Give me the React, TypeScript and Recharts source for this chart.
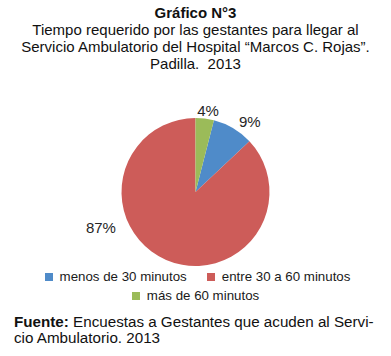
import React from "react";
import { PieChart, Pie, Cell } from "recharts";

// categories and values, in legend order
const categories = ["menos de 30 minutos", "entre 30 a 60 minutos", "más de 60 minutos"];
const percents = [9, 87, 4];
const sliceColors = ["#4F8BC9", "#CD5C59", "#9BBB59"];

const titleLines = [
  "Tiempo requerido por las gestantes para llegar al",
  "Servicio Ambulatorio del Hospital “Marcos C. Rojas”.",
  "Padilla.  2013",
];

const RAD = Math.PI / 180;
// Excel "best fit" label placement: angle shift (deg, clockwise) and extra radius per slice
const labelShift = [
  { angle: 7, extra: 15 },
  { angle: 46, extra: 27 },
  { angle: 1.6, extra: 8 },
];

const pieData = categories.map((name, i) => ({ name, value: percents[i] }));

// green slice sits right after 12 o'clock, so start blue 4% past the top
const startAngle = 90 - percents[2] * 3.6;

const font = "'Liberation Sans', Arial, sans-serif";

const renderLabel = (props: any) => {
  const { cx, cy, midAngle, outerRadius, index, value } = props;
  const s = labelShift[index];
  const a = midAngle - s.angle;
  const r = outerRadius + s.extra;
  const x = cx + r * Math.cos(-a * RAD);
  const y = cy + r * Math.sin(-a * RAD);
  return (
    <text
      x={x}
      y={y}
      textAnchor="middle"
      dominantBaseline="central"
      fill="#262626"
      fontSize={15}
      fontFamily={font}
    >
      {`${value}%`}
    </text>
  );
};

const LegendItem = ({ i }: { i: number }) => (
  <span style={{ display: "inline-flex", alignItems: "center" }}>
    <span
      style={{
        width: 8,
        height: 8,
        background: sliceColors[i],
        display: "inline-block",
        marginRight: 7,
      }}
    />
    {categories[i]}
  </span>
);

export default function App() {
  return (
    <div
      style={{
        position: "absolute",
        left: 0,
        top: 0,
        width: 391,
        height: 356,
        background: "#fff",
        fontFamily: font,
        color: "#111",
      }}
    >
      <div style={{ position: "absolute", top: 4, left: 0, width: 391, textAlign: "center" }}>
        <div style={{ fontWeight: "bold", fontSize: 15, lineHeight: "17px" }}>Gráfico N°3</div>
        {titleLines.map((t) => (
          <div key={t} style={{ fontSize: 15, lineHeight: "17px", whiteSpace: "pre" }}>
            {t}
          </div>
        ))}
      </div>

      <div style={{ position: "absolute", left: 0, top: 0 }}>
        <PieChart width={391} height={356}>
          <Pie
            data={pieData}
            dataKey="value"
            nameKey="name"
            cx={190.5}
            cy={187}
            outerRadius={74}
            startAngle={startAngle}
            endAngle={startAngle - 360}
            stroke="none"
            label={renderLabel}
            labelLine={false}
            isAnimationActive={false}
          >
            {pieData.map((d, i) => (
              <Cell key={d.name} fill={sliceColors[i]} />
            ))}
          </Pie>
        </PieChart>
      </div>

      <div
        style={{
          position: "absolute",
          top: 267,
          left: 0,
          width: 391,
          fontSize: 13.3,
          lineHeight: "19px",
          color: "#1a1a1a",
        }}
      >
        <div style={{ display: "flex", justifyContent: "center", gap: 20, paddingLeft: 4 }}>
          <LegendItem i={0} />
          <LegendItem i={1} />
        </div>
        <div style={{ display: "flex", justifyContent: "center" }}>
          <LegendItem i={2} />
        </div>
      </div>

      <div
        style={{
          position: "absolute",
          top: 314,
          left: 14,
          fontSize: 15.2,
          lineHeight: "16px",
          color: "#111",
        }}
      >
        <div style={{ whiteSpace: "pre" }}>
          <b>Fuente:</b> Encuestas a Gestantes que acuden al Servi-
        </div>
        <div>cio Ambulatorio. 2013</div>
      </div>
    </div>
  );
}
